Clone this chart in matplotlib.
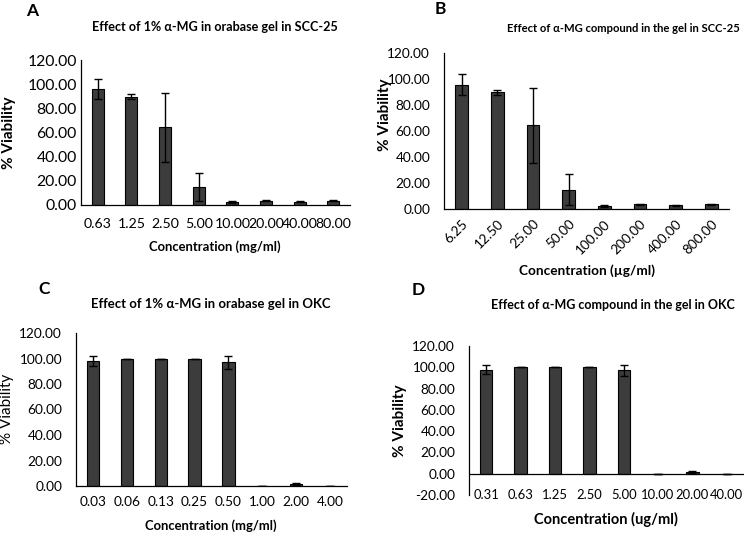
import numpy as np
import matplotlib
matplotlib.use("Agg")
import matplotlib.pyplot as plt

plt.rcParams['font.family'] = ['Lato', 'DejaVu Sans']

# Datos
conc_a = ['0.63', '1.25', '2.50', '5.00', '10.00', '20.00', '40.00', '80.00']
conc_b = ['6.25', '12.50', '25.00', '50.00', '100.00', '200.00', '400.00', '800.00']
scc_mean = [95.7, 89.7, 64.3, 14.8, 2.4, 3.6, 2.8, 3.6]
scc_err = [8.2, 2.0, 28.7, 11.8, 0.5, 0.6, 0.5, 0.6]

conc_c = ['0.03', '0.06', '0.13', '0.25', '0.50', '1.00', '2.00', '4.00']
conc_d = ['0.31', '0.63', '1.25', '2.50', '5.00', '10.00', '20.00', '40.00']
okc_mean = [97.8, 100.0, 100.0, 100.0, 97.0, 0.0, 1.5, 0.2]
okc_err = [4.0, 0.0, 0.0, 0.0, 5.3, 0.0, 0.8, 0.0]

W, H = 744, 536
fig = plt.figure(figsize=(W / 100, H / 100), dpi=100)

bar_col = '#3c3c3c'


def px(x, y):
    # pixel -> fracción de figura
    return x / W, 1 - y / H


def txt(x, y, s, **kw):
    fx, fy = px(x, y)
    fig.text(fx, fy, s, ha='center', va='center', **kw)


def panel(box, labels, mean, err, fs=9.8, xfs=None, ylim=(0, 120), ypad=10,
          rot=0, low_labels=False, xpad=10):
    x0, y0, x1, y1 = box  # pixeles: izquierda, arriba, derecha, abajo
    ax = fig.add_axes([x0 / W, 1 - y1 / H, (x1 - x0) / W, (y1 - y0) / H])
    x = np.arange(len(labels))
    ax.bar(x, mean, width=0.36, color=bar_col, edgecolor='black', linewidth=0.8,
           yerr=err, error_kw=dict(ecolor='black', elinewidth=1, capsize=3, capthick=1))
    ax.set_xlim(-0.5, len(labels) - 0.5)
    ax.set_ylim(*ylim)
    yt = np.arange(ylim[0], ylim[1] + 1, 20)
    ax.set_yticks(yt)
    ax.set_yticklabels(['%.2f' % v for v in yt])
    ax.set_xticks(x)
    if rot:
        ax.set_xticklabels(labels, rotation=rot, ha='right', rotation_mode='anchor')
    else:
        ax.set_xticklabels(labels)
    ax.tick_params(axis='both', length=0)
    ax.tick_params(axis='y', pad=ypad, labelsize=fs)
    ax.tick_params(axis='x', pad=xpad, labelsize=xfs or fs)
    for s in ['top', 'right']:
        ax.spines[s].set_visible(False)
    ax.spines['left'].set_linewidth(0.9)
    ax.spines['bottom'].set_linewidth(0.9)
    if low_labels:
        ax.spines['bottom'].set_visible(False)
        ax.axhline(0, color='black', linewidth=0.9)
        for lab in ax.get_xticklabels():
            lab.set_verticalalignment('center')
    return ax


# A
panel((81, 60, 350, 205), conc_a, scc_mean, scc_err, fs=11.3, xfs=10.2, ypad=3, xpad=9)
txt(32, 11, 'A', fontsize=12.5, fontweight='bold')
txt(215, 27, 'Effect of 1% α-MG in orabase gel in SCC-25', fontsize=9.1, fontweight='bold')
txt(9, 133, '% Viability', fontsize=11, fontweight='bold', rotation=90)
txt(215, 247, 'Concentration (mg/ml)', fontsize=9.4, fontweight='bold')

# B
panel((444, 53, 729, 209), conc_b, scc_mean, scc_err, rot=45, xpad=6)
txt(440, 9, 'B', fontsize=12.5, fontweight='bold')
txt(623, 28, 'Effect of α-MG compound in the gel in SCC-25', fontsize=8.1, fontweight='bold')
txt(385, 115, '% Viability', fontsize=11, fontweight='bold', rotation=90)
txt(587, 271, 'Concentration (µg/ml)', fontsize=9.8, fontweight='bold')

# C
panel((76, 333, 347, 486), conc_c, okc_mean, okc_err, xpad=7)
txt(44, 289, 'C', fontsize=12.5, fontweight='bold')
txt(211, 304, 'Effect of 1% α-MG in orabase gel in OKC', fontsize=9.45, fontweight='bold')
txt(7, 409, '% Viability', fontsize=11, rotation=90)
txt(211, 526, 'Concentration (mg/ml)', fontsize=9.4, fontweight='bold')

# D
panel((469, 346, 744, 495), conc_d, okc_mean, okc_err, xfs=9.4, ylim=(-20, 120),
      low_labels=True, xpad=0)
txt(418, 290, 'D', fontsize=12.5, fontweight='bold')
txt(613, 305, 'Effect of α-MG compound in the gel in OKC', fontsize=9.0, fontweight='bold')
txt(400, 421, '% Viability', fontsize=11, fontweight='bold', rotation=90)
txt(606, 519, 'Concentration (ug/ml)', fontsize=10.5, fontweight='bold')

fig.savefig('out.png', dpi=100)
